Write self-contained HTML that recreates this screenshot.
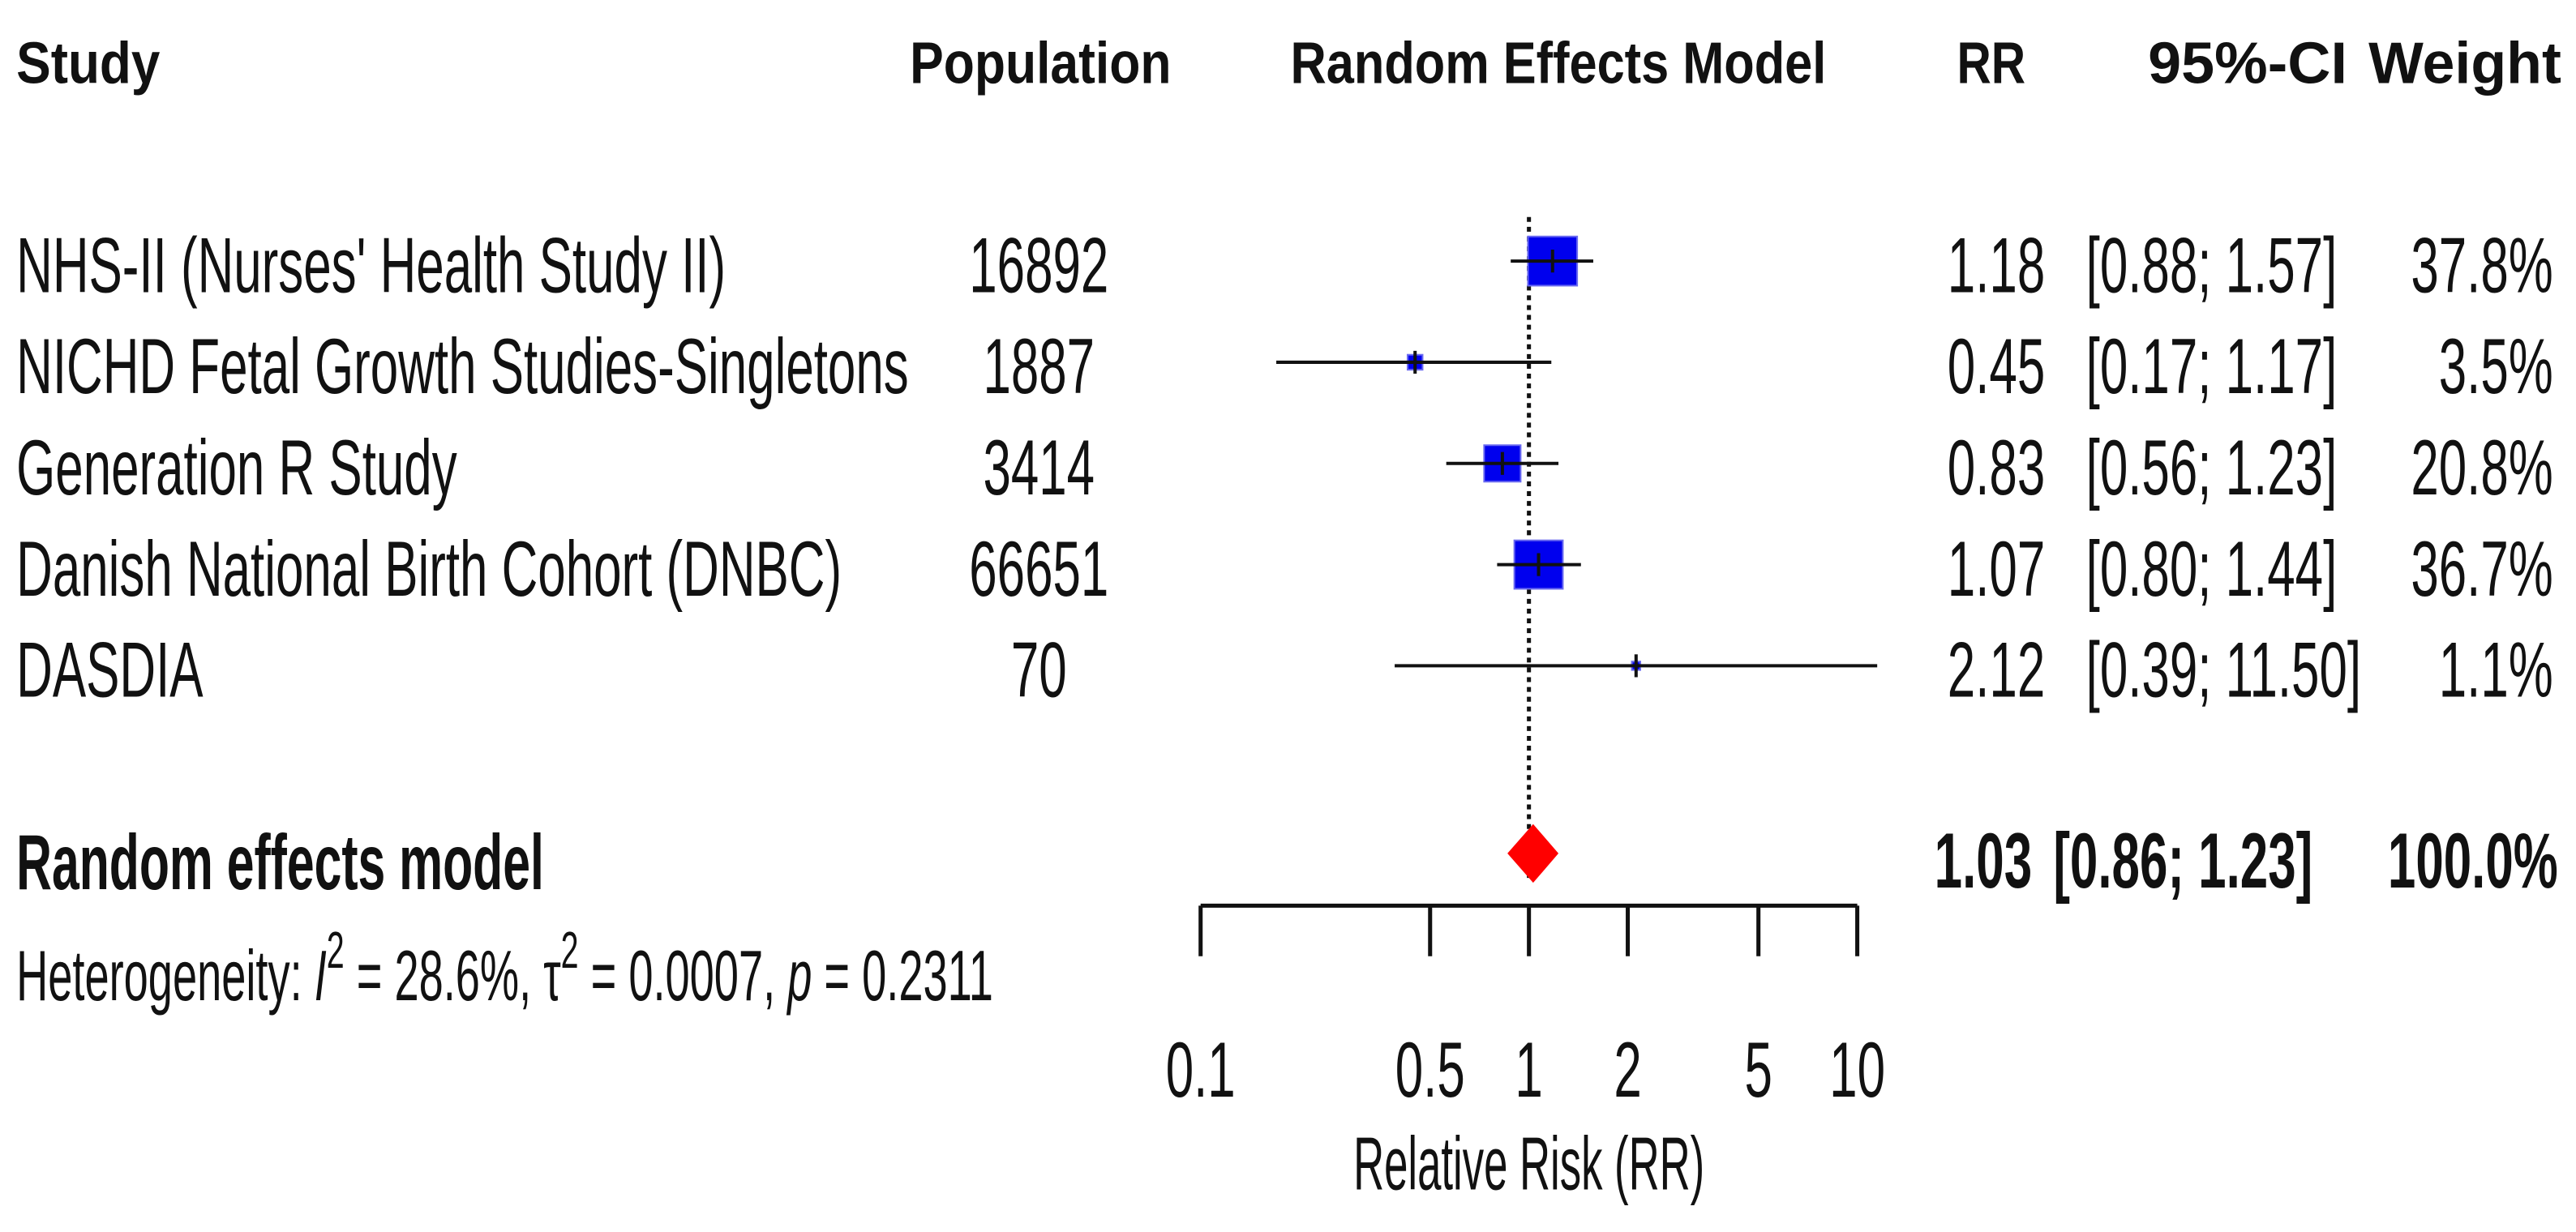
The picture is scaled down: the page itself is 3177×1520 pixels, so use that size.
<!DOCTYPE html>
<html><head><meta charset="utf-8"><style>
html,body{margin:0;padding:0;background:#fff;}
svg{display:block;}
text{font-family:"Liberation Sans",sans-serif;fill:#111;}
.h{font-weight:bold;font-size:36px;}
.t{font-size:48px;}
.b{font-weight:bold;}
</style></head><body>
<svg id="plot" width="3177" height="1520" viewBox="0 0 1577 755" preserveAspectRatio="none" xmlns="http://www.w3.org/2000/svg">
<text class="h" x="10" y="51" textLength="88" lengthAdjust="spacingAndGlyphs">Study</text>
<text class="h" x="557" y="51" textLength="160" lengthAdjust="spacingAndGlyphs">Population</text>
<text class="h" x="790" y="51" textLength="328" lengthAdjust="spacingAndGlyphs">Random Effects Model</text>
<text class="h" x="1198" y="51" textLength="42" lengthAdjust="spacingAndGlyphs">RR</text>
<text class="h" x="1315" y="51" textLength="122" lengthAdjust="spacingAndGlyphs">95%-CI</text>
<text class="h" x="1450" y="51" textLength="118" lengthAdjust="spacingAndGlyphs">Weight</text>
<g id="rows"></g>
<g id="axis"></g>
<text class="t b" x="10" y="545" font-size="46" textLength="323" lengthAdjust="spacingAndGlyphs">Random effects model</text>
<text x="10" y="613" font-size="44" textLength="598" lengthAdjust="spacingAndGlyphs">Heterogeneity: <tspan font-style="italic">I</tspan><tspan dy="-20" font-size="32">2</tspan><tspan dy="20"> = 28.6%, τ</tspan><tspan dy="-20" font-size="32">2</tspan><tspan dy="20"> = 0.0007, </tspan><tspan font-style="italic">p</tspan> = 0.2311</text>
<text x="936" y="729" font-size="46" text-anchor="middle" textLength="215" lengthAdjust="spacingAndGlyphs">Relative Risk (RR)</text>
</svg>
<script>
const studies=["NHS-II (Nurses' Health Study II)","NICHD Fetal Growth Studies-Singletons","Generation R Study","Danish National Birth Cohort (DNBC)","DASDIA"];
const population=["16892","1887","3414","66651","70"];
const rr=[1.18,0.45,0.83,1.07,2.12];
const lower=[0.88,0.17,0.56,0.80,0.39];
const upper=[1.57,1.17,1.23,1.44,11.50];
const weight=[37.8,3.5,20.8,36.7,1.1];
const pooled=[1.03,0.86,1.23];
const ticks=[0.1,0.5,1,2,5,10];
const tickLabels=["0.1","0.5","1","2","5","10"];

const NS="http://www.w3.org/2000/svg";
const X=v=>936+Math.log10(v)*201;
const rowY=i=>160+i*62;
const CF=0.64;
function mk(tag,attrs,parent,txt){const e=document.createElementNS(NS,tag);for(const k in attrs)e.setAttribute(k,attrs[k]);if(txt!==undefined)e.textContent=txt;parent.appendChild(e);return e;}
function condense(e){const L=e.getComputedTextLength();e.setAttribute('textLength',(L*CF).toFixed(1));e.setAttribute('lengthAdjust','spacingAndGlyphs');}
const rows=document.getElementById('rows');
let ref=mk('line',{x1:X(1),x2:X(1),y1:133,y2:540,stroke:'#111','stroke-width':2.5,'stroke-dasharray':'3,3'},rows);


const f2=v=>v.toFixed(2);
studies.forEach((s,i)=>{
  const y=rowY(i), by=y+19;
  let t=mk('text',{class:'t',x:10,y:by},rows,s);
  
  
  condense(t);
  let p=mk('text',{class:'t',x:636,y:by,'text-anchor':'middle'},rows,population[i]);
  
  
  condense(p);
  let side=4.9*Math.sqrt(weight[i]);
  let sq=mk('rect',{x:X(rr[i])-side/2,y:y-side/2,width:side,height:side,fill:'#0000ee',stroke:'#6a6af0','stroke-width':1},rows);
  
  
  let ci=mk('line',{x1:X(lower[i]),x2:X(upper[i]),y1:y,y2:y,stroke:'#111','stroke-width':2},rows);
  
  
  let tk=mk('line',{x1:X(rr[i]),x2:X(rr[i]),y1:y-7,y2:y+7,stroke:'#111','stroke-width':2},rows);
  
  
  let r=mk('text',{class:'t',x:1252,y:by,'text-anchor':'end'},rows,f2(rr[i]));
  
  
  condense(r);
  let c=mk('text',{class:'t',x:1277,y:by},rows,'['+f2(lower[i])+'; '+f2(upper[i])+']');
  
  
  condense(c);
  let w=mk('text',{class:'t',x:1563,y:by,'text-anchor':'end'},rows,weight[i].toFixed(1)+'%');
  
  
  condense(w);
});
const dy=523;
let dm=mk('polygon',{points:`${X(pooled[1])},${dy} ${X(pooled[0])},${dy-18} ${X(pooled[2])},${dy} ${X(pooled[0])},${dy+18}`,fill:'#ff0000'},rows);


let pr=mk('text',{class:'t b',x:1244,y:dy+21,'text-anchor':'end','font-size':46},rows,f2(pooled[0]));


condense(pr);
let pc=mk('text',{class:'t b',x:1257,y:dy+21,'font-size':46},rows,'['+f2(pooled[1])+'; '+f2(pooled[2])+']');


condense(pc);
let pw=mk('text',{class:'t b',x:1566,y:dy+21,'text-anchor':'end','font-size':46},rows,'100.0%');


condense(pw);
const ax=document.getElementById('axis');
let al=mk('line',{x1:X(ticks[0]),x2:X(ticks[ticks.length-1]),y1:555,y2:555,stroke:'#111','stroke-width':2.5},ax);


ticks.forEach((v,i)=>{
  let l=mk('line',{x1:X(v),x2:X(v),y1:555,y2:586,stroke:'#111','stroke-width':2.5},ax);
  
  
  let t=mk('text',{class:'t',x:X(v),y:672,'text-anchor':'middle'},ax,tickLabels[i]);
  
  
  condense(t);
});
</script>
</body></html>
